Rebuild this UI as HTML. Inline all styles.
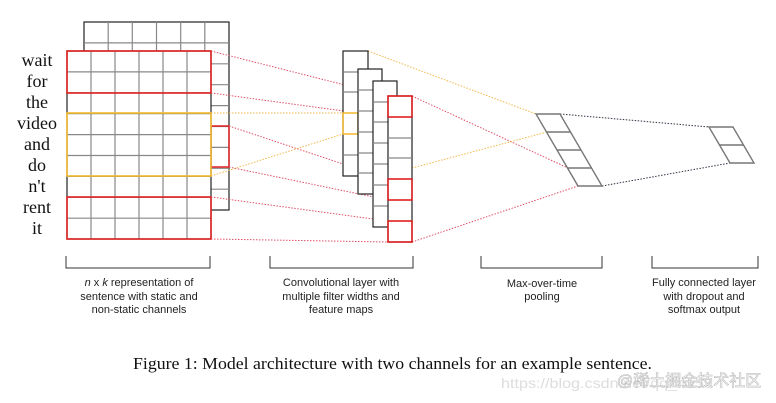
<!DOCTYPE html>
<html><head><meta charset="utf-8"><style>html,body{margin:0;padding:0;background:#fff}svg{display:block}</style></head>
<body>
<svg width="776" height="403" viewBox="0 0 776 403" xmlns="http://www.w3.org/2000/svg">
<g fill="none" stroke-width="1.2">
<!-- back matrix -->
<rect x="84" y="22" width="145" height="188" fill="#fff" stroke="#222"/>
<g stroke="#888">
<line x1="108.2" y1="22" x2="108.2" y2="51"/><line x1="132.3" y1="22" x2="132.3" y2="51"/><line x1="156.5" y1="22" x2="156.5" y2="51"/><line x1="180.7" y1="22" x2="180.7" y2="51"/><line x1="204.8" y1="22" x2="204.8" y2="51"/>
<line x1="84" y1="42.9" x2="229" y2="42.9"/>
<line x1="211" y1="63.8" x2="229" y2="63.8"/><line x1="211" y1="84.7" x2="229" y2="84.7"/><line x1="211" y1="105.6" x2="229" y2="105.6"/><line x1="211" y1="126.5" x2="229" y2="126.5"/><line x1="211" y1="147.4" x2="229" y2="147.4"/><line x1="211" y1="168.3" x2="229" y2="168.3"/><line x1="211" y1="189.2" x2="229" y2="189.2"/>
</g>
<rect x="211" y="126" width="18" height="41" stroke="#e02020" stroke-width="1.5"/>
<!-- front matrix -->
<rect x="67" y="51" width="144" height="188" fill="#fff" stroke="#222"/>
<g stroke="#888">
<line x1="91" y1="51" x2="91" y2="239"/><line x1="115" y1="51" x2="115" y2="239"/><line x1="139" y1="51" x2="139" y2="239"/><line x1="163" y1="51" x2="163" y2="239"/><line x1="187" y1="51" x2="187" y2="239"/>
<line x1="67" y1="71.9" x2="211" y2="71.9"/><line x1="67" y1="92.8" x2="211" y2="92.8"/><line x1="67" y1="113.7" x2="211" y2="113.7"/><line x1="67" y1="134.6" x2="211" y2="134.6"/><line x1="67" y1="155.5" x2="211" y2="155.5"/><line x1="67" y1="176.4" x2="211" y2="176.4"/><line x1="67" y1="197.3" x2="211" y2="197.3"/><line x1="67" y1="218.2" x2="211" y2="218.2"/>
</g>
<rect x="67" y="51" width="144" height="42" stroke="#e02020" stroke-width="1.6"/>
<rect x="67" y="113" width="144" height="63" stroke="#f2b82a" stroke-width="1.6"/>
<rect x="67" y="197" width="144" height="42" stroke="#e02020" stroke-width="1.6"/>

<!-- dotted connectors -->
<g stroke-dasharray="1.5,1.5" stroke-width="1">
<g stroke="#e0506a">
<line x1="211" y1="51" x2="388" y2="96"/><line x1="211" y1="93" x2="388" y2="117"/>
<line x1="229" y1="126" x2="388" y2="179"/><line x1="229" y1="167" x2="388" y2="200"/>
<line x1="211" y1="197" x2="388" y2="221"/><line x1="211" y1="239" x2="388" y2="242"/>
<line x1="412" y1="96" x2="568" y2="168"/><line x1="412" y1="242" x2="578" y2="186"/>
</g>
<g stroke="#f2b84a">
<line x1="211" y1="113" x2="343" y2="113"/><line x1="211" y1="176" x2="343" y2="134"/>
<line x1="368" y1="51" x2="536" y2="114"/><line x1="412" y1="168" x2="547" y2="132"/>
</g>
<g stroke="#334">
<line x1="560" y1="114" x2="709" y2="127"/><line x1="602" y1="186" x2="730" y2="163"/>
</g>
</g>

<!-- feature maps -->
<rect x="343" y="51" width="25" height="125" fill="#fff" stroke="#222"/>
<g stroke="#888"><line x1="343" y1="72" x2="368" y2="72"/><line x1="343" y1="92" x2="368" y2="92"/><line x1="343" y1="155" x2="368" y2="155"/></g>
<rect x="343" y="113" width="15" height="21" stroke="#f2b82a" stroke-width="1.5"/>
<rect x="358" y="69" width="24" height="125" fill="#fff" stroke="#222"/>
<g stroke="#888"><line x1="358" y1="90" x2="382" y2="90"/><line x1="358" y1="111" x2="382" y2="111"/><line x1="358" y1="132" x2="382" y2="132"/><line x1="358" y1="153" x2="382" y2="153"/><line x1="358" y1="173" x2="382" y2="173"/></g>
<rect x="373" y="81" width="24" height="146" fill="#fff" stroke="#222"/>
<g stroke="#888"><line x1="373" y1="102" x2="397" y2="102"/><line x1="373" y1="122" x2="397" y2="122"/><line x1="373" y1="143" x2="397" y2="143"/><line x1="373" y1="164" x2="397" y2="164"/><line x1="373" y1="185" x2="397" y2="185"/><line x1="373" y1="206" x2="397" y2="206"/></g>
<rect x="388" y="96" width="24" height="146" fill="#fff" stroke="#222"/>
<g stroke="#888"><line x1="388" y1="138" x2="412" y2="138"/><line x1="388" y1="158" x2="412" y2="158"/></g>
<g stroke="#e02020" stroke-width="1.6"><rect x="388" y="96" width="24" height="21"/><rect x="388" y="179" width="24" height="21"/><rect x="388" y="221" width="24" height="21"/></g>

<!-- pooling -->
<g stroke="#777" stroke-width="1.4">
<polygon points="536,114 560,114 602,186 578,186"/>
<line x1="546.5" y1="132" x2="570.5" y2="132"/><line x1="557" y1="150" x2="581" y2="150"/><line x1="567.5" y1="168" x2="591.5" y2="168"/>
<polygon points="709,127 733,127 754,163 730,163"/>
<line x1="719.5" y1="145" x2="743.5" y2="145"/>
</g>

<!-- brackets -->
<g stroke="#333" stroke-width="1">
<polyline points="66,256 66,268 210,268 210,256"/>
<polyline points="270,256 270,268 413,268 413,256"/>
<polyline points="481,256 481,268 602,268 602,256"/>
<polyline points="652,256 652,268 758,268 758,256"/>
</g>
</g>

<g font-family="Liberation Serif, serif" font-size="18" fill="#111" text-anchor="middle">
<text x="37" y="66">wait</text><text x="37" y="87">for</text><text x="37" y="108">the</text><text x="37" y="129">video</text><text x="37" y="150">and</text><text x="37" y="171">do</text><text x="37" y="192">n't</text><text x="37" y="213">rent</text><text x="37" y="234">it</text>
</g>
<g font-family="Liberation Sans, sans-serif" font-size="11" fill="#222" text-anchor="middle">
<text x="139" y="286"><tspan font-style="italic">n</tspan> x <tspan font-style="italic">k</tspan> representation of</text>
<text x="139" y="300">sentence with static and</text>
<text x="139" y="313">non-static channels</text>
<text x="341" y="286">Convolutional layer with</text>
<text x="341" y="300">multiple filter widths and</text>
<text x="341" y="313">feature maps</text>
<text x="542" y="287">Max-over-time</text>
<text x="542" y="300">pooling</text>
<text x="704" y="286">Fully connected layer</text>
<text x="704" y="300">with dropout and</text>
<text x="704" y="313">softmax output</text>
</g>
<text x="133" y="369" font-family="Liberation Serif, serif" font-size="17" fill="#111" textLength="519" lengthAdjust="spacingAndGlyphs">Figure 1: Model architecture with two channels for an example sentence.</text>
<text x="501" y="388" font-family="Liberation Sans, 'Noto Sans CJK SC', sans-serif" font-size="14" fill="#ddd" textLength="212" lengthAdjust="spacingAndGlyphs">https://blog.csdn.net/qq_4159</text>
<text x="617" y="386" font-family="Liberation Sans, 'Noto Sans CJK SC', sans-serif" font-size="16" fill="#fff" stroke="#bbb" stroke-width="0.6">@稀土掘金技术社区</text>
</svg>
</body></html>
